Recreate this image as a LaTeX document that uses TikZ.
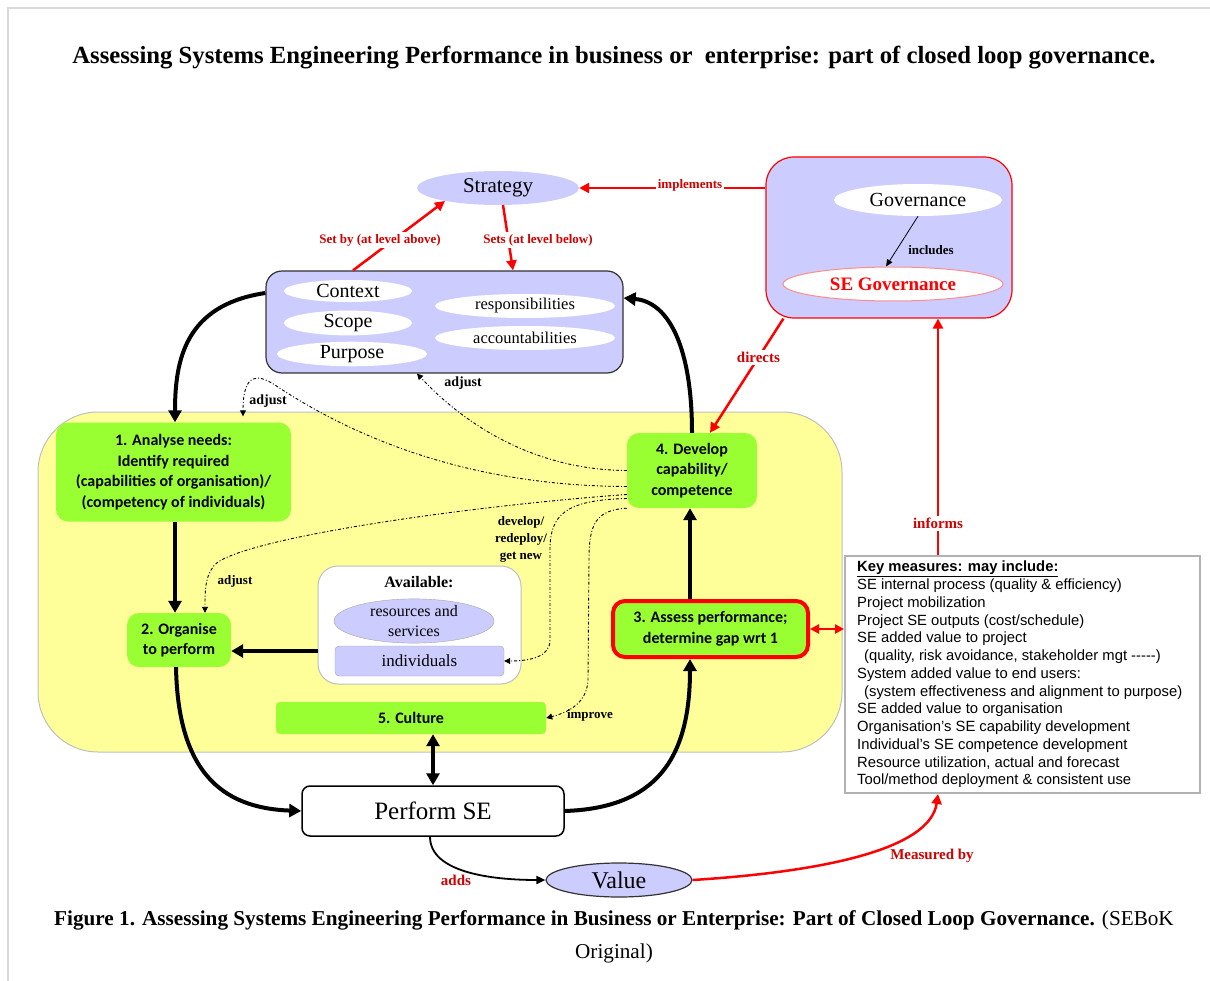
\documentclass[tikz,border=0pt]{standalone}
\usepackage{fontspec}
\setmainfont{Liberation Serif}
\newfontfamily\boxfont{Carlito}
\newfontfamily\listfont{Liberation Sans}
\usetikzlibrary{arrows.meta,shapes.geometric}
\definecolor{lavender}{HTML}{CCCCFF}
\definecolor{paleyellow}{HTML}{FFFF99}
\definecolor{limegreen}{HTML}{99FF33}
\definecolor{labelred}{HTML}{D00000}

\begin{document}
\begin{tikzpicture}[x=1pt, y=-1pt,
			oval/.style={ellipse, inner sep=0pt},
			panel/.style={rounded corners=#1, inner sep=0pt},
			greenbox/.style={rounded corners=12pt, fill=limegreen, inner sep=0pt, align=center, font=\boxfont\bfseries\fontsize{16}{20.5}\selectfont},
			flow/.style={line width=4pt, -{Triangle[length=12pt,width=13pt]}},
			redflow/.style={red, line width=2.5pt, -{Triangle[length=10pt,width=10pt]}},
			hint/.style={line width=0.9pt, dash pattern=on 3pt off 2pt on 1pt off 2pt, -{Triangle[length=6pt,width=6pt]}},
			redlabel/.style={fill=white, inner sep=2pt, text=labelred, font=\bfseries\fontsize{13}{15}\selectfont},
			blacklabel/.style={inner sep=1pt, font=\bfseries\fontsize{13}{16}\selectfont},
		]
		\useasboundingbox (0,0) rectangle (1210,981);
		\draw[black!15, line width=1.5pt] (8,981) -- (8,8) -- (1210,8);

		\node[font=\bfseries\fontsize{24.7}{28}\selectfont] (title) at (614,58) {Assessing Systems Engineering Performance in business or\ \ enterprise: part of closed loop governance.};

		% governance (top right)
		\node[panel=28pt, fill=lavender, draw=red, line width=1.2pt, minimum width=246pt, minimum height=161pt] (govbox) at (889,237.5) {};
		\node[oval, fill=white, minimum width=168pt, minimum height=32pt, font=\fontsize{20}{24}\selectfont] (gov) at (918,200) {Governance};
		\node[oval, fill=white, draw=red!45, line width=1pt, minimum width=220pt, minimum height=34pt, text=red, font=\bfseries\fontsize{19}{24}\selectfont] (segov) at (893,284) {SE Governance};
		\draw[line width=0.8pt, -{Triangle[length=7pt,width=6pt]}] (gov.south) -- ([xshift=-7pt]segov.north);
		\node[blacklabel] (incllbl) at (931,250) {includes};

		% strategy and context
		\node[oval, fill=lavender, minimum width=162pt, minimum height=34pt, font=\fontsize{21}{24}\selectfont] (strat) at (498,188) {Strategy};
		\node[panel=16pt, fill=lavender, draw=black!80, line width=1.2pt, minimum width=357pt, minimum height=102pt] (ctx) at (444.5,322) {};
		\node[oval, fill=white, minimum width=128pt, minimum height=22pt, font=\fontsize{20}{22}\selectfont] (context) at (348,291) {Context};
		\node[oval, fill=white, minimum width=128pt, minimum height=22pt, font=\fontsize{20}{22}\selectfont] (scope) at (348,323) {Scope};
		\node[oval, fill=white, minimum width=150pt, minimum height=24pt, font=\fontsize{20}{22}\selectfont] (purpose) at (352,354) {Purpose};
		\node[oval, fill=white, minimum width=180pt, minimum height=24pt, font=\fontsize{16.5}{20}\selectfont] (resp) at (525,306) {responsibilities};
		\node[oval, fill=white, minimum width=180pt, minimum height=24pt, font=\fontsize{16.5}{20}\selectfont] (acct) at (525,338) {accountabilities};

		\draw[redflow] (govbox.west |- strat.east) -- (strat.east);
		\node[redlabel] (impllbl) at (690,185) {implements};
		\draw[redflow] ([xshift=-91.5pt]ctx.north) -- ([shift={(-53,13)}]strat.center);
		\node[redlabel] (setbylbl) at (380,240) {Set by (at level above)};
		\draw[redflow] ([shift={(5,17)}]strat.center) -- ([xshift=68.5pt]ctx.north);
		\node[redlabel] (setslbl) at (538,240) {Sets (at level below)};

		% yellow area
		\node[panel=60pt, fill=paleyellow, draw=black!25, line width=1pt, minimum width=804pt, minimum height=340pt] (yard) at (440,582) {};

		\node[greenbox, minimum width=235pt, minimum height=99pt] (n1) at (173.5,472) {1. Analyse needs:\\Identify required\\(capabilities of organisation)/\\(competency of individuals)};
		\node[greenbox, minimum width=104pt, minimum height=54pt] (n2) at (179,640) {2. Organise\\to perform};
		\node[greenbox, minimum width=195pt, minimum height=56pt, draw=red, line width=4pt] (n3) at (710.5,629) {3. Assess performance;\\determine gap wrt 1};
		\node[greenbox, minimum width=130pt, minimum height=75pt] (n4) at (692,470.5) {4. Develop\\capability/\\competence};
		\node[greenbox, rounded corners=4pt, minimum width=270pt, minimum height=32pt] (n5) at (411,718) {5. Culture};

		\node[panel=20pt, fill=white, draw=black!25, line width=1pt, minimum width=203pt, minimum height=118pt] (avail) at (419.5,625) {};
		\node[font=\bfseries\fontsize{16}{18}\selectfont] (availlbl) at (419,582) {Available:};
		\node[oval, fill=lavender, draw=black!35, minimum width=160pt, minimum height=40pt, align=center, font=\fontsize{16}{20}\selectfont] (res) at (414,621) {resources and\\services};
		\node[panel=4pt, fill=lavender, draw=black!35, minimum width=169pt, minimum height=30pt, font=\fontsize{17}{20}\selectfont] (indiv) at (419.5,661) {individuals};

		% adjustments from 4
		\draw[hint] (n4.west) .. controls (540,470) and (470,430) .. ([xshift=-27.5pt]ctx.south);
		\draw[hint, shorten >=6pt] ([yshift=-16pt]n4.west) .. controls (450,486) and (335,425) .. (275,385) .. controls (258,374) and (243,372) .. ([xshift=69.5pt]n1.north);
		\draw[hint] ([yshift=-24pt]n4.west) .. controls (480,505) and (260,535) .. (218,562) .. controls (205,572) and (205,590) .. ([xshift=26pt]n2.north);
		\draw[hint] ([yshift=-28pt]n4.west) .. controls (565,500) and (550,515) .. (550,550) -- (550,640) .. controls (550,657) and (530,661) .. (indiv.east);
		\draw[hint] (n4.south west) .. controls (595,510) and (589,525) .. (589,560) -- (588,680) .. controls (587,702) and (570,712) .. (n5.east);
		\node[blacklabel, font=\bfseries\fontsize{14}{16}\selectfont] (adjlbla) at (463,383) {adjust};
		\node[blacklabel, font=\bfseries\fontsize{14}{16}\selectfont] (adjlblb) at (268,401) {adjust};
		\node[blacklabel] (adjlblc) at (235,581) {adjust};
		\node[blacklabel, align=center, font=\bfseries\fontsize{13}{17}\selectfont] (devlbl) at (521,539) {develop/\\redeploy/\\get new};
		\node[blacklabel] (implbl) at (590,715) {improve};

		% perform and value
		\node[panel=8pt, fill=white, draw=black, line width=1.5pt, minimum width=262pt, minimum height=50pt, font=\fontsize{25}{28}\selectfont] (perf) at (433,811) {Perform SE};
		\node[oval, fill=lavender, draw=black!80, line width=1.2pt, minimum width=146pt, minimum height=34pt, font=\fontsize{24}{26}\selectfont] (value) at (619,880) {Value};

		% main loop
		\coordinate (lvl) at (0,651);
		\draw[flow] ([yshift=29pt]ctx.west) .. controls (185,305) and (175,360) .. ([xshift=1.5pt]n1.north);
		\draw[flow] ([xshift=1.5pt]n1.south) -- ([xshift=1.5pt]n1.south |- n2.north);
		\draw[flow] ([xshift=-3pt]n2.south) .. controls (178,770) and (220,808) .. (perf.west);
		\draw[flow] (perf.east) .. controls (655,808) and (690,760) .. ([xshift=-20.5pt]n3.south);
		\draw[flow] ([xshift=-20.5pt]n3.north) -- ([xshift=-20.5pt]n3.north |- n4.south);
		\draw[flow] (n4.north) .. controls (692,350) and (670,302) .. ([yshift=24pt]ctx.east);
		\draw[flow] (avail.west |- lvl) -- (n2.east |- lvl);
		\draw[line width=4pt, {Triangle[length=12pt,width=13pt]}-{Triangle[length=12pt,width=13pt]}] (perf.north |- n5.south) -- (perf.north);
		\draw[line width=1.8pt, -{Triangle[length=9pt,width=8pt]}] ([xshift=-3pt]perf.south) .. controls (430,872) and (490,880) .. (value.west);
		\node[redlabel, fill=none, font=\bfseries\fontsize{15}{17}\selectfont] (addslbl) at (456,880) {adds};

		% key measures
		\node[draw=black!30, line width=2pt, fill=white, minimum width=355pt, minimum height=237pt] (keym) at (1022.5,674.5) {};
		\node[anchor=north west, inner sep=0pt, align=left, font=\listfont\fontsize{14.8}{17.75}\selectfont] (keytxt) at (857,561) {\textbf{\underline{Key measures: may include:}}\\
			SE internal process (quality \& efficiency)\\
			Project mobilization\\
			Project SE outputs (cost/schedule)\\
			SE added value to project\\
			\hspace*{7pt}(quality, risk avoidance, stakeholder mgt -----)\\
			System added value to end users:\\
			\hspace*{7pt}(system effectiveness and alignment to purpose)\\
			SE added value to organisation\\
			Organisation’s SE capability development\\
			Individual’s SE competence development\\
			Resource utilization, actual and forecast\\
			Tool/method deployment \& consistent use};

		\draw[redflow] (value.east) .. controls (820,872) and (930,850) .. ([xshift=-84.5pt]keym.south);
		\node[redlabel, fill=none, font=\bfseries\fontsize{15}{17}\selectfont] (measlbl) at (932,856) {Measured by};
		\draw[redflow] ([xshift=-84.5pt]keym.north) -- node[redlabel, pos=0.134, font=\bfseries\fontsize{15}{17}\selectfont] (inflbl) {informs} ([xshift=49pt]govbox.south);
		\draw[redflow] ([xshift=18pt]govbox.south west) -- node[redlabel, pos=0.34, font=\bfseries\fontsize{15}{17}\selectfont] (dirlbl) {directs} ([xshift=18pt]n4.north);
		\draw[red, line width=2.5pt, {Triangle[length=9pt,width=9pt]}-{Triangle[length=9pt,width=9pt]}] (n3.east) -- (n3.east -| keym.west);

		\node[align=center, font=\fontsize{21.2}{33}\selectfont] (caption) at (614,937) {\textbf{Figure 1. Assessing Systems Engineering Performance in Business or Enterprise: Part of Closed Loop Governance.} (SEBoK\\Original)};
	\end{tikzpicture}
\end{document}
